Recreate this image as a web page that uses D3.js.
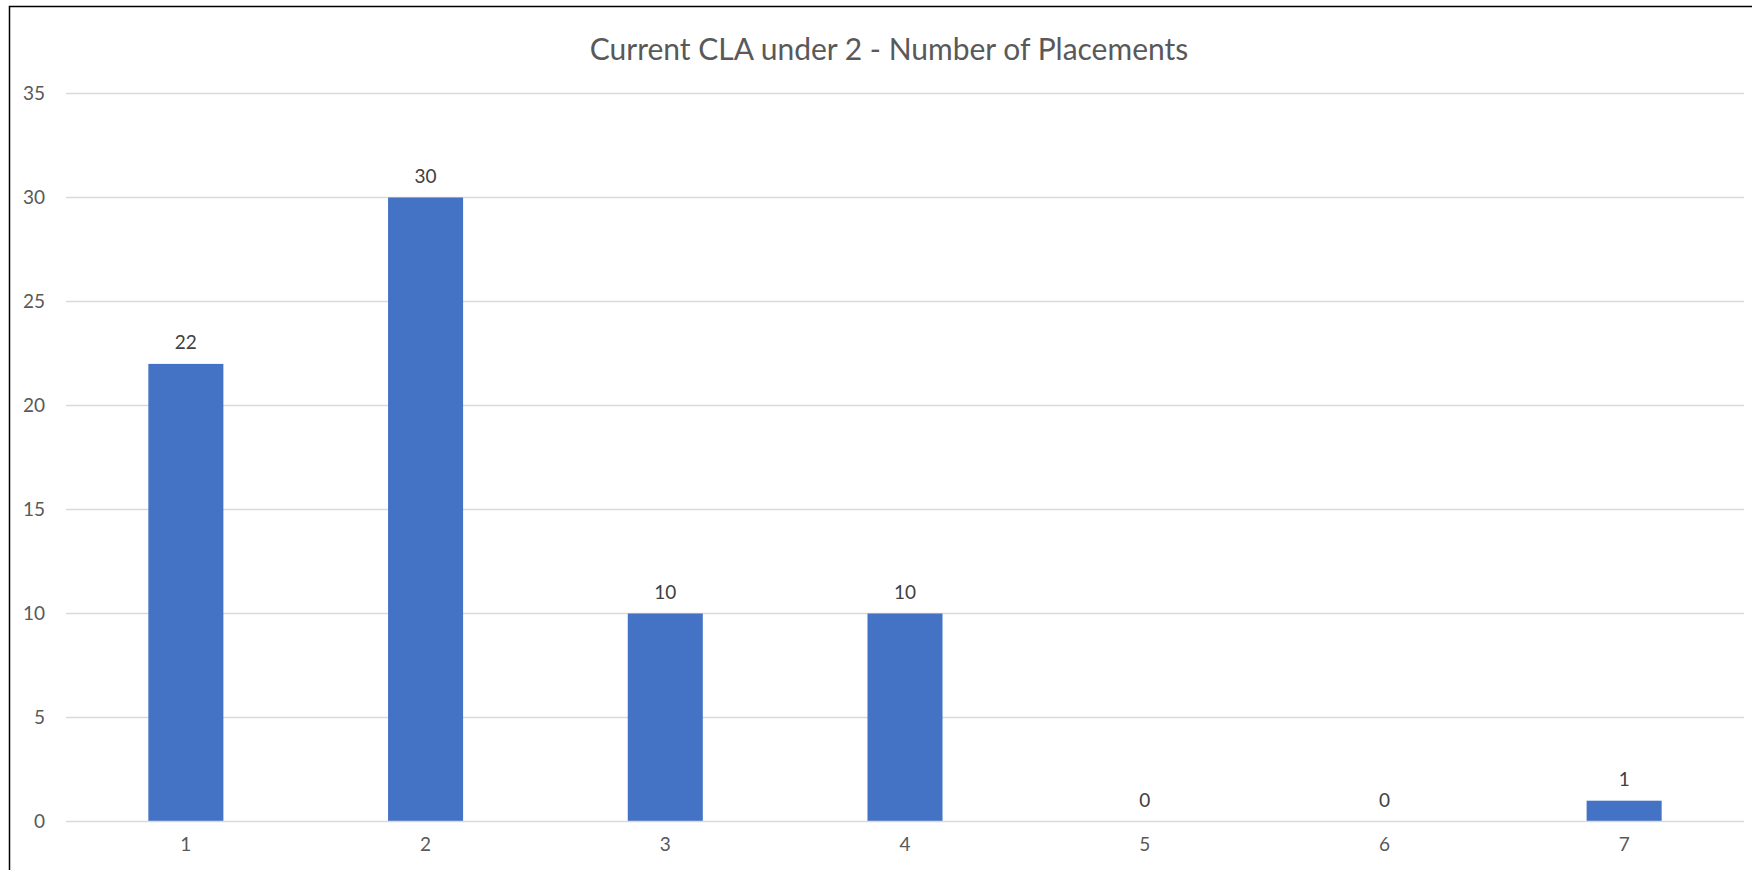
<!DOCTYPE html>
<html>
<head>
<meta charset="utf-8">
<script src="https://cdn.jsdelivr.net/npm/d3@7"></script>
<style>
  html, body { margin: 0; padding: 0; background: #fff; }
  svg { display: block; }
  text { font-family: Lato, "Open Sans", sans-serif; }
</style>
</head>
<body>
<svg id="chart" width="1752" height="870"></svg>
<script>
const chartTitle = "Current CLA under 2 - Number of Placements";
const categories = ["1", "2", "3", "4", "5", "6", "7"];
const values = [22, 30, 10, 10, 0, 0, 1];
const yTicks = [0, 5, 10, 15, 20, 25, 30, 35];

const W = 1752, H = 870;
const margin = { left: 66, right: 8, top: 93.5, bottom: 48.5 };
const svg = d3.select("#chart");

// outer chart border (extends past right/bottom edges as in the reference)
svg.append("rect")
  .attr("x", 9.5).attr("y", 6.5)
  .attr("width", W + 20).attr("height", H + 20)
  .attr("fill", "#fff").attr("stroke", "#000").attr("stroke-width", 1.5);

const x = d3.scaleBand()
  .domain(categories)
  .range([margin.left, W - margin.right])
  .paddingInner(0.687).paddingOuter(0.3435);

const y = d3.scaleLinear()
  .domain([0, 35])
  .range([H - margin.bottom, margin.top]);

// gridlines
svg.append("g")
  .selectAll("line")
  .data(yTicks.filter(d => d !== 0))
  .join("line")
  .attr("x1", margin.left).attr("x2", W - margin.right)
  .attr("y1", d => y(d)).attr("y2", d => y(d))
  .attr("stroke", "#d9d9d9").attr("stroke-width", 1.3);

// y axis labels
const yAxis = d3.axisLeft(y).tickValues(yTicks).tickSize(0).tickPadding(21);
const gy = svg.append("g").attr("transform", `translate(${margin.left},0)`).call(yAxis);
gy.select(".domain").remove();
gy.selectAll("text")
  .attr("fill", "#595959").style("font-size", "19px")
  .style("font-family", "Lato, 'Open Sans', sans-serif");

// bars
svg.append("g")
  .selectAll("rect")
  .data(values)
  .join("rect")
  .attr("x", (d, i) => x(categories[i]))
  .attr("width", x.bandwidth())
  .attr("y", d => y(d))
  .attr("height", d => y(0) - y(d))
  .attr("fill", "#4472C4");

// x axis baseline
svg.append("line")
  .attr("x1", margin.left).attr("x2", W - margin.right)
  .attr("y1", y(0)).attr("y2", y(0))
  .attr("stroke", "#d9d9d9").attr("stroke-width", 1.5);

// x axis labels
const xAxis = d3.axisBottom(x).tickSize(0).tickPadding(16);
const gx = svg.append("g").attr("transform", `translate(0,${y(0)})`).call(xAxis);
gx.select(".domain").remove();
gx.selectAll("text")
  .attr("fill", "#595959").style("font-size", "19px")
  .style("font-family", "Lato, 'Open Sans', sans-serif");

// data labels
svg.append("g")
  .selectAll("text")
  .data(values)
  .join("text")
  .attr("x", (d, i) => x(categories[i]) + x.bandwidth() / 2)
  .attr("y", d => y(d) - 14.5)
  .attr("text-anchor", "middle")
  .attr("fill", "#404040")
  .style("font-size", "19px")
  .text(d => d);

// title
svg.append("text")
  .attr("x", 889).attr("y", 59.5)
  .attr("text-anchor", "middle")
  .attr("fill", "#595959")
  .style("font-size", "30px")
  .text(chartTitle);
</script>
</body>
</html>
